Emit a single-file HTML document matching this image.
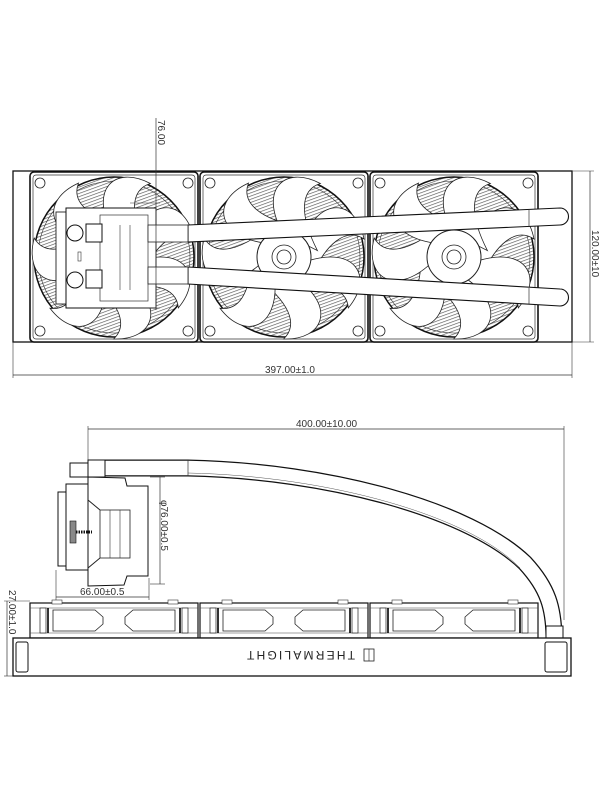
<!DOCTYPE html>
<html><head><meta charset="utf-8"><style>
html,body{margin:0;padding:0;background:#fff;width:600px;height:800px;overflow:hidden}
svg{display:block}
text{font-family:"Liberation Sans",sans-serif;fill:#333}
</style></head><body>
<svg width="600" height="800" viewBox="0 0 600 800" xmlns="http://www.w3.org/2000/svg">
<defs>
<pattern id="h" width="3" height="3" patternUnits="userSpaceOnUse" patternTransform="rotate(70)">
<line x1="0" y1="0" x2="0" y2="3" stroke="#555" stroke-width="1.3"/>
</pattern>
<g id="blade">
<path d="M18,-16 C36,-62 72,-58 80,-18 C62,-30 42,-14 26,22 Z" fill="#fff" stroke="#222" stroke-width="0.8"/>
</g>
<g id="fan">
<rect x="-84" y="-85" width="168" height="170" rx="4" fill="#fff" stroke="#111" stroke-width="1.6"/>
<rect x="-81" y="-82" width="162" height="164" rx="3" fill="none" stroke="#333" stroke-width="0.7"/>
<circle r="80" fill="url(#h)" stroke="#111" stroke-width="1.5"/>
<circle r="76" fill="none" stroke="#333" stroke-width="0.6"/>
<use href="#blade"/>
<use href="#blade" transform="rotate(51)"/>
<use href="#blade" transform="rotate(103)"/>
<use href="#blade" transform="rotate(154)"/>
<use href="#blade" transform="rotate(206)"/>
<use href="#blade" transform="rotate(257)"/>
<use href="#blade" transform="rotate(309)"/>
<circle r="27" fill="#fff" stroke="#222" stroke-width="1"/>
<circle r="12" fill="#fff" stroke="#222" stroke-width="0.8"/>
<circle r="7" fill="none" stroke="#222" stroke-width="0.8"/>
<g fill="#fff" stroke="#222" stroke-width="0.8">
<circle cx="-74" cy="-74" r="5"/><circle cx="74" cy="-74" r="5"/>
<circle cx="-74" cy="74" r="5"/><circle cx="74" cy="74" r="5"/>
</g>
</g>
<g id="sfan">
<rect x="0" y="0" width="168" height="35" fill="#fff" stroke="#111" stroke-width="1.2"/>
<line x1="0" y1="5" x2="168" y2="5" stroke="#444" stroke-width="0.6"/>
<line x1="0" y1="30" x2="168" y2="30" stroke="#444" stroke-width="0.6"/>
<path d="M23,7 L65,7 L73,14 L73,21 L65,28 L23,28 Z" fill="#fff" stroke="#222" stroke-width="0.8"/>
<path d="M145,7 L103,7 L95,14 L95,21 L103,28 L145,28 Z" fill="#fff" stroke="#222" stroke-width="0.8"/>
<rect x="10" y="5" width="6" height="25" fill="#fff" stroke="#222" stroke-width="0.7"/>
<line x1="18" y1="5" x2="18" y2="30" stroke="#000" stroke-width="1.6"/>
<rect x="152" y="5" width="6" height="25" fill="#fff" stroke="#222" stroke-width="0.7"/>
<line x1="150" y1="5" x2="150" y2="30" stroke="#000" stroke-width="1.6"/>
<rect x="22" y="-3" width="10" height="4" fill="#fff" stroke="#333" stroke-width="0.6"/>
<rect x="138" y="-3" width="10" height="4" fill="#fff" stroke="#333" stroke-width="0.6"/>
</g>
</defs>

<!-- TOP VIEW -->
<rect x="13" y="171" width="559" height="171" fill="#fff" stroke="#111" stroke-width="1.3"/>
<use href="#fan" transform="translate(114,257)"/>
<use href="#fan" transform="translate(284,257)"/>
<use href="#fan" transform="translate(454,257)"/>
<path d="M188,225 L560,208 A8,8 0 0 1 560,225 L188,242 Z" fill="#fff" stroke="#111" stroke-width="1.1"/>
<line x1="529" y1="210" x2="529" y2="226" stroke="#333" stroke-width="0.7"/>
<path d="M188,267 L560,289 A8,8 0 0 1 560,306 L188,284 Z" fill="#fff" stroke="#111" stroke-width="1.1"/>
<line x1="529" y1="288" x2="529" y2="304" stroke="#333" stroke-width="0.7"/>
<rect x="56" y="212" width="10" height="92" fill="#fff" stroke="#222" stroke-width="0.9"/>
<rect x="66" y="208" width="90" height="100" fill="#fff" stroke="#111" stroke-width="1"/>
<rect x="100" y="215" width="48" height="86" fill="#fff" stroke="#333" stroke-width="0.7"/>
<line x1="120" y1="225" x2="120" y2="290" stroke="#333" stroke-width="0.6"/>
<line x1="130" y1="225" x2="130" y2="290" stroke="#333" stroke-width="0.6"/>
<rect x="148" y="225" width="40" height="17" fill="#fff" stroke="#222" stroke-width="0.8"/>
<rect x="148" y="267" width="40" height="17" fill="#fff" stroke="#222" stroke-width="0.8"/>
<circle cx="75" cy="233" r="8" fill="#fff" stroke="#111"/>
<circle cx="75" cy="280" r="8" fill="#fff" stroke="#111"/>
<rect x="86" y="224" width="16" height="18" fill="#fff" stroke="#111"/>
<rect x="86" y="270" width="16" height="18" fill="#fff" stroke="#111"/>
<rect x="78" y="252" width="3" height="9" fill="none" stroke="#333" stroke-width="0.6"/>
<line x1="156" y1="118" x2="156" y2="310" stroke="#333" stroke-width="0.7"/>
<line x1="130" y1="203" x2="160" y2="203" stroke="#333" stroke-width="0.6"/>
<line x1="130" y1="308" x2="160" y2="308" stroke="#333" stroke-width="0.6"/>
<text transform="translate(158,120) rotate(90)" font-size="10">76.00</text>
<line x1="572" y1="171" x2="594" y2="171" stroke="#333" stroke-width="0.6"/>
<line x1="572" y1="342" x2="594" y2="342" stroke="#333" stroke-width="0.6"/>
<line x1="590" y1="171" x2="590" y2="342" stroke="#333" stroke-width="0.7"/>
<text transform="translate(592,230) rotate(90)" font-size="10">120.00±10</text>
<line x1="13" y1="342" x2="13" y2="378" stroke="#333" stroke-width="0.6"/>
<line x1="572" y1="342" x2="572" y2="378" stroke="#333" stroke-width="0.6"/>
<line x1="13" y1="375" x2="572" y2="375" stroke="#333" stroke-width="0.7"/>
<text x="265" y="373" font-size="10">397.00±1.0</text>

<!-- SIDE VIEW -->
<line x1="88" y1="429" x2="564" y2="429" stroke="#333" stroke-width="0.7"/>
<line x1="88" y1="426" x2="88" y2="465" stroke="#333" stroke-width="0.6"/>
<line x1="564" y1="426" x2="564" y2="620" stroke="#333" stroke-width="0.6"/>
<text x="296" y="427" font-size="10">400.00±10.00</text>
<path d="M105,468 L188,468 C330,471 470,510 525,563 C548,588 554,608 554,640" fill="none" stroke="#111" stroke-width="17"/>
<path d="M105,468 L188,468 C330,471 470,510 525,563 C548,588 554,608 554,640" fill="none" stroke="#fff" stroke-width="14.5"/>
<path d="M188,473 C330,476 470,516 520,568" fill="none" stroke="#555" stroke-width="0.5"/>
<line x1="188" y1="460" x2="188" y2="476" stroke="#333" stroke-width="0.7"/>
<rect x="546" y="626" width="17" height="14" fill="#fff" stroke="#111"/>
<rect x="88" y="460" width="17" height="17" fill="#fff" stroke="#111"/>
<path d="M70,477 L70,463 L88,463 L88,477 Z" fill="#fff" stroke="#111"/>
<rect x="58" y="492" width="10" height="74" fill="#fff" stroke="#111"/>
<rect x="66" y="484" width="22" height="86" fill="#fff" stroke="#111"/>
<path d="M88,477 L125,478 L127,486 L148,486 L148,576 L127,576 L124,585 L88,586 Z" fill="#fff" stroke="#111"/>
<rect x="100" y="510" width="30" height="48" fill="#fff" stroke="#222" stroke-width="0.8"/>
<line x1="110" y1="510" x2="110" y2="558" stroke="#333" stroke-width="0.6"/>
<line x1="120" y1="510" x2="120" y2="558" stroke="#333" stroke-width="0.6"/>
<path d="M88,500 L100,510 M88,568 L100,558" stroke="#222" fill="none"/>
<rect x="70" y="521" width="6" height="22" fill="#888" stroke="#111" stroke-width="0.6"/>
<line x1="76" y1="532" x2="92" y2="532" stroke="#111" stroke-width="3" stroke-dasharray="1.5 1"/>
<line x1="150" y1="477" x2="165" y2="477" stroke="#333" stroke-width="0.6"/>
<line x1="150" y1="584" x2="165" y2="584" stroke="#333" stroke-width="0.6"/>
<line x1="160" y1="477" x2="160" y2="584" stroke="#333" stroke-width="0.7"/>
<text transform="translate(161,500) rotate(90)" font-size="10">φ76.00±0.5</text>
<line x1="56" y1="570" x2="56" y2="600" stroke="#333" stroke-width="0.6"/>
<line x1="149" y1="578" x2="149" y2="600" stroke="#333" stroke-width="0.6"/>
<line x1="56" y1="597" x2="149" y2="597" stroke="#333" stroke-width="0.7"/>
<text x="80" y="595" font-size="10">66.00±0.5</text>
<use href="#sfan" transform="translate(30,603)"/>
<use href="#sfan" transform="translate(200,603)"/>
<use href="#sfan" transform="translate(370,603)"/>
<rect x="13" y="638" width="558" height="38" fill="#fff" stroke="#111" stroke-width="1.3"/>
<rect x="16" y="642" width="12" height="30" rx="2" fill="#fff" stroke="#111"/>
<rect x="545" y="642" width="22" height="30" rx="2" fill="#fff" stroke="#111"/>
<text transform="translate(355,654) rotate(180)" font-size="12" letter-spacing="2.2" dominant-baseline="middle" text-anchor="start" style="fill:#222">THERMALIGHT</text>
<rect x="364" y="649" width="10" height="12" fill="none" stroke="#222" stroke-width="0.8"/>
<line x1="369" y1="649" x2="369" y2="661" stroke="#222" stroke-width="0.6"/>
<line x1="4" y1="601" x2="30" y2="601" stroke="#333" stroke-width="0.6"/>
<line x1="4" y1="676" x2="13" y2="676" stroke="#333" stroke-width="0.6"/>
<line x1="7" y1="601" x2="7" y2="676" stroke="#333" stroke-width="0.7"/>
<text transform="translate(9,590) rotate(90)" font-size="10">27.00±1.0</text>
</svg>
</body></html>
